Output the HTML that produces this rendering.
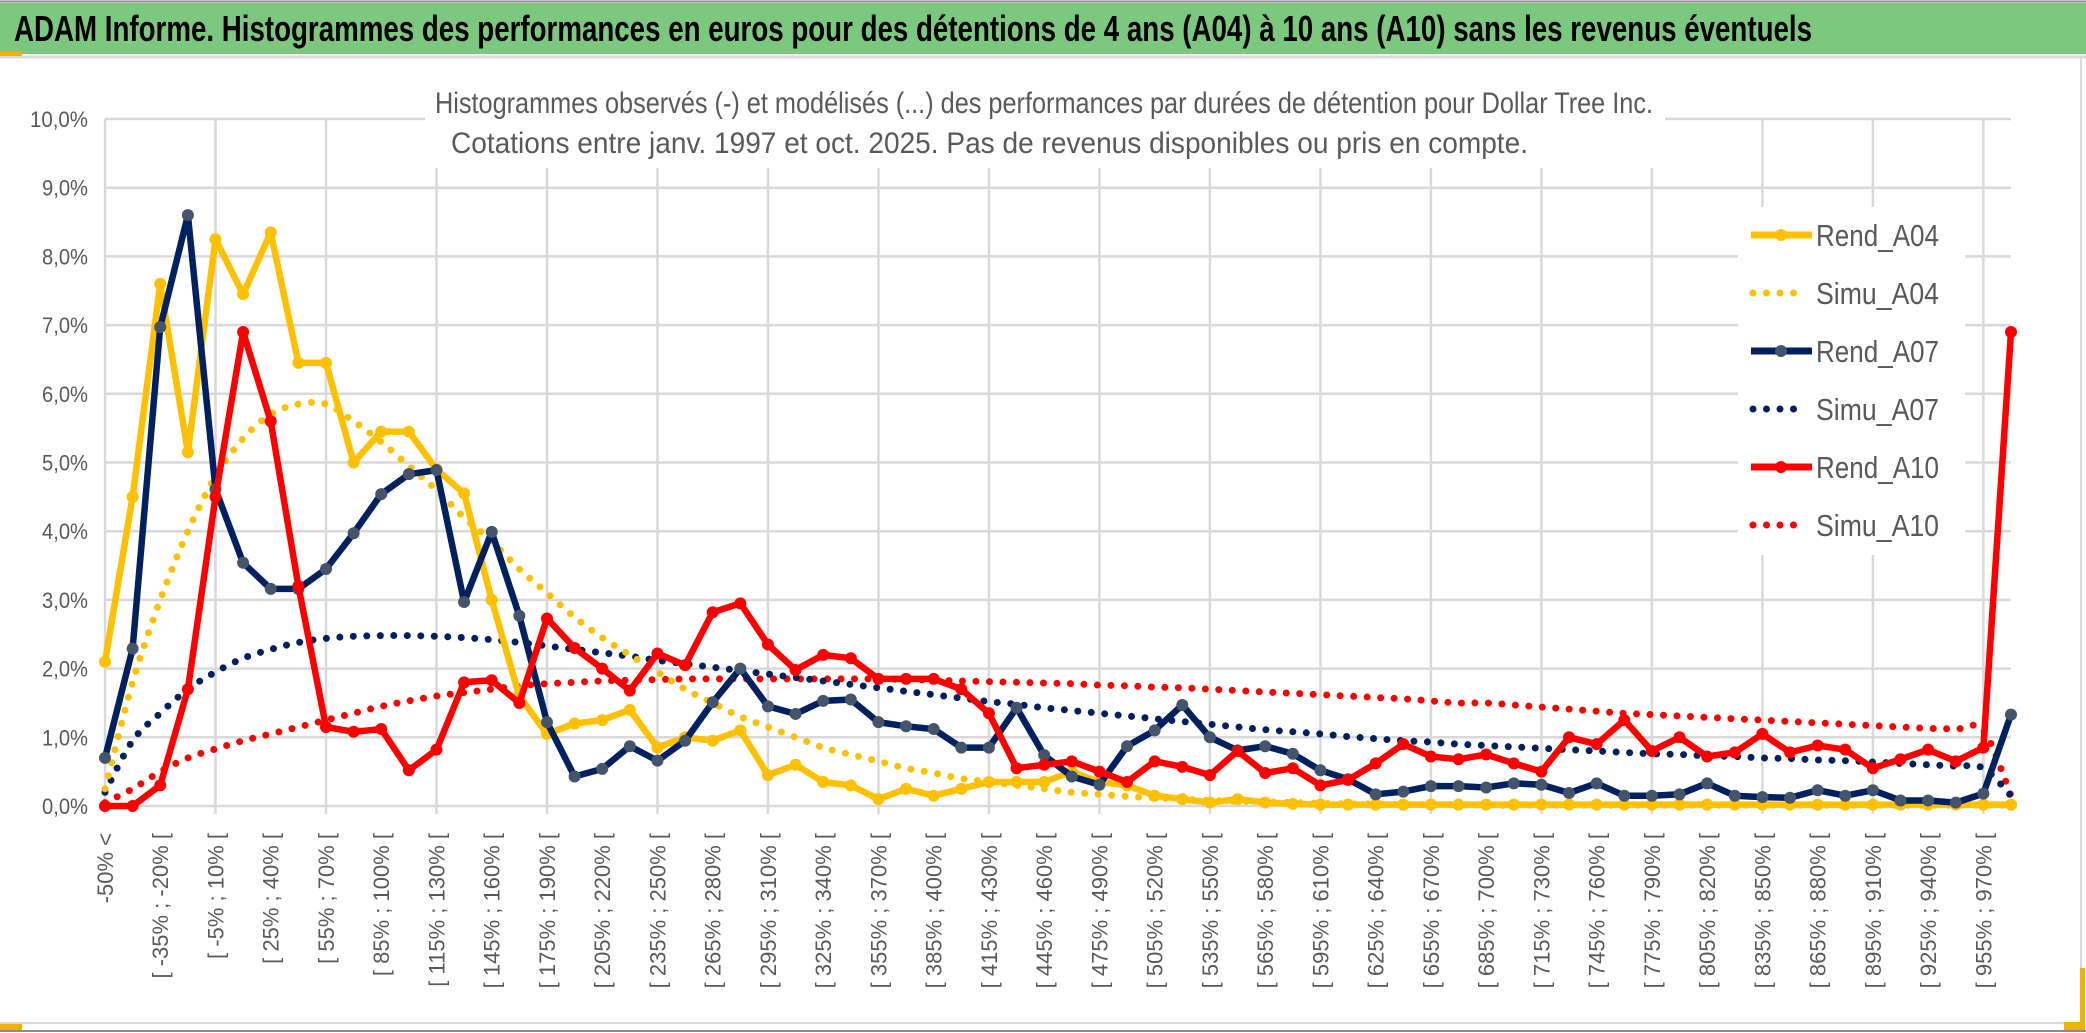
<!DOCTYPE html>
<html><head><meta charset="utf-8"><style>
html,body{margin:0;padding:0;background:#fff;}
svg{display:block;font-family:"Liberation Sans",Arial,sans-serif;}
</style></head><body>
<svg id="chart" width="2086" height="1033" viewBox="0 0 2086 1033" xmlns="http://www.w3.org/2000/svg">
<rect x="0" y="0" width="2086" height="1033" fill="#fff"/>
<line x1="0" y1="1.5" x2="2086" y2="1.5" stroke="#8c8c8c" stroke-width="2"/>
<rect x="0" y="3" width="2086" height="51" fill="#7dc87f"/>
<line x1="0" y1="57" x2="2086" y2="57" stroke="#d9d9d9" stroke-width="3"/>
<rect x="0" y="52" width="22" height="4" fill="#f0b400"/>
<text x="14" y="41" font-size="36" font-weight="bold" fill="#000" textLength="1798" lengthAdjust="spacingAndGlyphs">ADAM Informe. Histogrammes des performances en euros pour des détentions de 4 ans (A04) à 10 ans (A10) sans les revenus éventuels</text>
<line x1="2081" y1="58" x2="2081" y2="1024" stroke="#d9d9d9" stroke-width="2"/>
<line x1="0" y1="1023" x2="2081" y2="1023" stroke="#d9d9d9" stroke-width="2"/>
<line x1="0" y1="1031" x2="2086" y2="1031" stroke="#8c8c8c" stroke-width="2"/>
<rect x="0" y="1024" width="22" height="6" fill="#f0b400"/>
<rect x="2064" y="1022" width="19" height="8" fill="#f0b400"/>
<rect x="2080" y="968" width="5" height="62" fill="#f0b400"/>
<g id="grid"></g>
<rect x="425" y="80" width="1240" height="88" fill="#fff"/>
<text x="435" y="113" font-size="30" fill="#595959" textLength="1218" lengthAdjust="spacingAndGlyphs">Histogrammes observés (-) et modélisés (...) des performances par durées de détention pour Dollar Tree Inc.</text>
<text x="451" y="153" font-size="30" fill="#595959" textLength="1077" lengthAdjust="spacingAndGlyphs">Cotations entre janv. 1997 et oct. 2025. Pas de revenus disponibles ou pris en compte.</text>
<g id="yaxis"></g>
<g id="xaxis"></g>
<g id="series"></g>
<g id="legend"></g>
</svg>
<script>
const yTicks = [0,1,2,3,4,5,6,7,8,9,10];
const rendA04 = [2.1,4.5,7.6,5.15,8.25,7.45,8.35,6.45,6.45,5.0,5.45,5.45,4.9,4.55,3.0,1.6,1.05,1.2,1.25,1.4,0.85,1.0,0.95,1.1,0.45,0.6,0.35,0.3,0.1,0.25,0.15,0.25,0.35,0.35,0.35,0.5,0.35,0.3,0.15,0.1,0.05,0.1,0.05,0.03,0.02,0.02,0.02,0.02,0.02,0.02,0.02,0.02,0.02,0.02,0.02,0.02,0.02,0.02,0.02,0.02,0.02,0.02,0.02,0.02,0.02,0.02,0.02,0.02,0.02,0.02];
const simuA04 = [0.25,1.8,3.0,4.0,4.8,5.35,5.7,5.85,5.85,5.6,5.3,4.95,4.6,4.2,3.85,3.45,3.1,2.75,2.45,2.2,1.95,1.7,1.5,1.3,1.15,1.0,0.85,0.75,0.65,0.55,0.48,0.4,0.35,0.3,0.25,0.2,0.17,0.14,0.12,0.1,0.08,0.07,0.06,0.05,0.04,0.03,0.03,0.02,0.02,0.02,0.01,0.01,0.01,0.01,0.01,0.01,0.01,0.01,0.01,0.01,0.01,0.01,0.01,0.01,0.01,0.01,0.01,0.01,0.01,0.01];
const rendA07 = [0.7,2.29,6.97,8.6,4.61,3.54,3.16,3.16,3.45,3.97,4.54,4.83,4.89,2.97,3.99,2.77,1.22,0.43,0.54,0.87,0.66,0.95,1.51,2.0,1.45,1.34,1.53,1.55,1.22,1.16,1.12,0.85,0.85,1.43,0.74,0.43,0.31,0.87,1.1,1.47,1.0,0.81,0.87,0.76,0.52,0.39,0.17,0.21,0.29,0.29,0.27,0.33,0.31,0.19,0.33,0.15,0.15,0.17,0.33,0.15,0.13,0.12,0.23,0.15,0.23,0.08,0.08,0.05,0.18,1.33];
const simuA07 = [0.2,0.95,1.35,1.7,1.95,2.15,2.28,2.38,2.44,2.47,2.48,2.48,2.47,2.45,2.42,2.38,2.33,2.28,2.23,2.18,2.12,2.07,2.02,1.97,1.92,1.87,1.82,1.77,1.72,1.67,1.62,1.57,1.52,1.48,1.43,1.39,1.35,1.31,1.27,1.23,1.19,1.15,1.11,1.08,1.05,1.01,0.98,0.95,0.93,0.9,0.88,0.86,0.84,0.82,0.8,0.78,0.76,0.75,0.73,0.72,0.7,0.69,0.67,0.66,0.64,0.62,0.6,0.58,0.55,0.15];
const rendA10 = [0,0,0.3,1.7,4.5,6.9,5.6,3.2,1.15,1.08,1.12,0.52,0.82,1.8,1.83,1.5,2.73,2.3,2.0,1.68,2.22,2.05,2.82,2.95,2.35,1.98,2.2,2.15,1.85,1.85,1.85,1.7,1.35,0.55,0.6,0.65,0.5,0.35,0.65,0.57,0.45,0.8,0.48,0.55,0.3,0.38,0.62,0.9,0.72,0.68,0.75,0.62,0.5,1.0,0.9,1.25,0.8,1.0,0.72,0.78,1.05,0.78,0.88,0.82,0.55,0.68,0.82,0.65,0.85,6.9];
const simuA10 = [0.05,0.25,0.5,0.7,0.83,0.95,1.05,1.15,1.25,1.35,1.45,1.53,1.6,1.65,1.7,1.75,1.78,1.8,1.82,1.83,1.84,1.85,1.85,1.85,1.85,1.85,1.85,1.85,1.85,1.84,1.83,1.82,1.81,1.8,1.79,1.78,1.76,1.75,1.73,1.72,1.7,1.68,1.66,1.64,1.62,1.6,1.58,1.56,1.53,1.5,1.5,1.47,1.44,1.41,1.38,1.35,1.33,1.31,1.29,1.27,1.25,1.23,1.21,1.19,1.17,1.15,1.13,1.12,1.1,0.15];
const legendNames = ["Rend_A04","Simu_A04","Rend_A07","Simu_A07","Rend_A10","Simu_A10"];

const NS="http://www.w3.org/2000/svg";
const nCat = rendA04.length;
const X0=105, X1=2011, Y0=806, YPER=68.7;
function xs(i){return X0+(X1-X0)*i/(nCat-1);}
function ys(v){return Y0-v*YPER;}
function catLabel(i){
  if(i===0) return "-50% <";
  const lo=-50+15*(i-1), hi=-50+15*i;
  return "[ "+lo+"% ; "+hi+"% [";
}
function mk(tag,attrs,parent){const e=document.createElementNS(NS,tag);for(const k in attrs)e.setAttribute(k,attrs[k]);parent.appendChild(e);return e;}

const grid=document.getElementById('grid');
yTicks.forEach(t=>{
  const l=mk('line',{x1:X0,x2:X1,y1:ys(t),y2:ys(t),stroke:'#d9d9d9','stroke-width':2.5},grid);
  
  
});
for(let i=0;i<nCat;i+=4){
  const l=mk('line',{x1:xs(i),x2:xs(i),y1:ys(10),y2:Y0+8,stroke:'#d9d9d9','stroke-width':2.5},grid);
  
  
}
const ya=document.getElementById('yaxis');
yTicks.forEach(t=>{
  const tx=mk('text',{x:88,y:ys(t)+8,'text-anchor':'end','font-size':22,fill:'#595959',textLength:t===10?58:46,lengthAdjust:'spacingAndGlyphs'},ya);
  tx.textContent=t.toFixed(1).replace('.',',')+'%';
  
  
});
const xa=document.getElementById('xaxis');
for(let i=0;i<nCat;i+=2){
  const x=xs(i)+8, y=833;
  const tx=mk('text',{x:x,y:y,'text-anchor':'end','font-size':22,fill:'#595959',transform:'rotate(-90 '+x+' '+y+')'},xa);
  tx.textContent=catLabel(i);
  
  
}
function smoothPath(vals){
  const p=vals.map((v,i)=>[xs(i),ys(v)]);
  let d='M'+p[0][0]+','+p[0][1];
  for(let i=0;i<p.length-1;i++){
    const a=p[i-1]||p[i], b=p[i], c=p[i+1], e=p[i+2]||c;
    const c1=[b[0]+(c[0]-a[0])/6,b[1]+(c[1]-a[1])/6], c2=[c[0]-(e[0]-b[0])/6,c[1]-(e[1]-b[1])/6];
    d+=' C'+c1[0].toFixed(1)+','+c1[1].toFixed(1)+' '+c2[0].toFixed(1)+','+c2[1].toFixed(1)+' '+c[0].toFixed(1)+','+c[1].toFixed(1);
  }
  return d;
}
const sg=document.getElementById('series');
function dotted(vals,color,name){
  const p=mk('path',{d:smoothPath(vals),fill:'none',stroke:color,'stroke-width':7,'stroke-linecap':'round','stroke-dasharray':'0 13.5'},sg);
  
  
}
function solid(vals,color,mcolor,name){
  const pts=vals.map((v,i)=>xs(i).toFixed(1)+','+ys(v).toFixed(1)).join(' ');
  const pl=mk('polyline',{points:pts,fill:'none',stroke:color,'stroke-width':6.5,'stroke-linejoin':'round'},sg);
  
  
  vals.forEach((v,i)=>{
    const c=mk('circle',{cx:xs(i),cy:ys(v),r:6,fill:mcolor},sg);
    
    
  });
}
dotted(simuA10,'#ff0000','simu-a10-line');
dotted(simuA07,'#002060','simu-a07-line');
dotted(simuA04,'#ffc000','simu-a04-line');
solid(rendA04,'#ffc000','#ffc000','rend-a04-line');
solid(rendA07,'#002060','#44546a','rend-a07-line');
solid(rendA10,'#ff0000','#ff0000','rend-a10-line');

const lg=document.getElementById('legend');
mk('rect',{x:1738,y:207,width:227,height:348,fill:'#fff'},lg);
const lcolors=['#ffc000','#ffc000','#002060','#002060','#ff0000','#ff0000'];
const mcols=['#ffc000','','#44546a','','#ff0000',''];
legendNames.forEach((nm,k)=>{
  const y=235+k*58;
  if(k%2===0){
    const l=mk('line',{x1:1751,x2:1812,y1:y,y2:y,stroke:lcolors[k],'stroke-width':7},lg);
    
    
    mk('circle',{cx:1781,cy:y,r:6,fill:mcols[k]},lg);
  } else {
    const l=mk('line',{x1:1753,x2:1800,y1:y,y2:y,stroke:lcolors[k],'stroke-width':7,'stroke-linecap':'round','stroke-dasharray':'0 13.5'},lg);
    
    
  }
  const t=mk('text',{x:1816,y:y+11,'font-size':31,fill:'#595959',textLength:123,lengthAdjust:'spacingAndGlyphs'},lg);
  t.textContent=nm;
  
  
});
</script>
</body></html>
